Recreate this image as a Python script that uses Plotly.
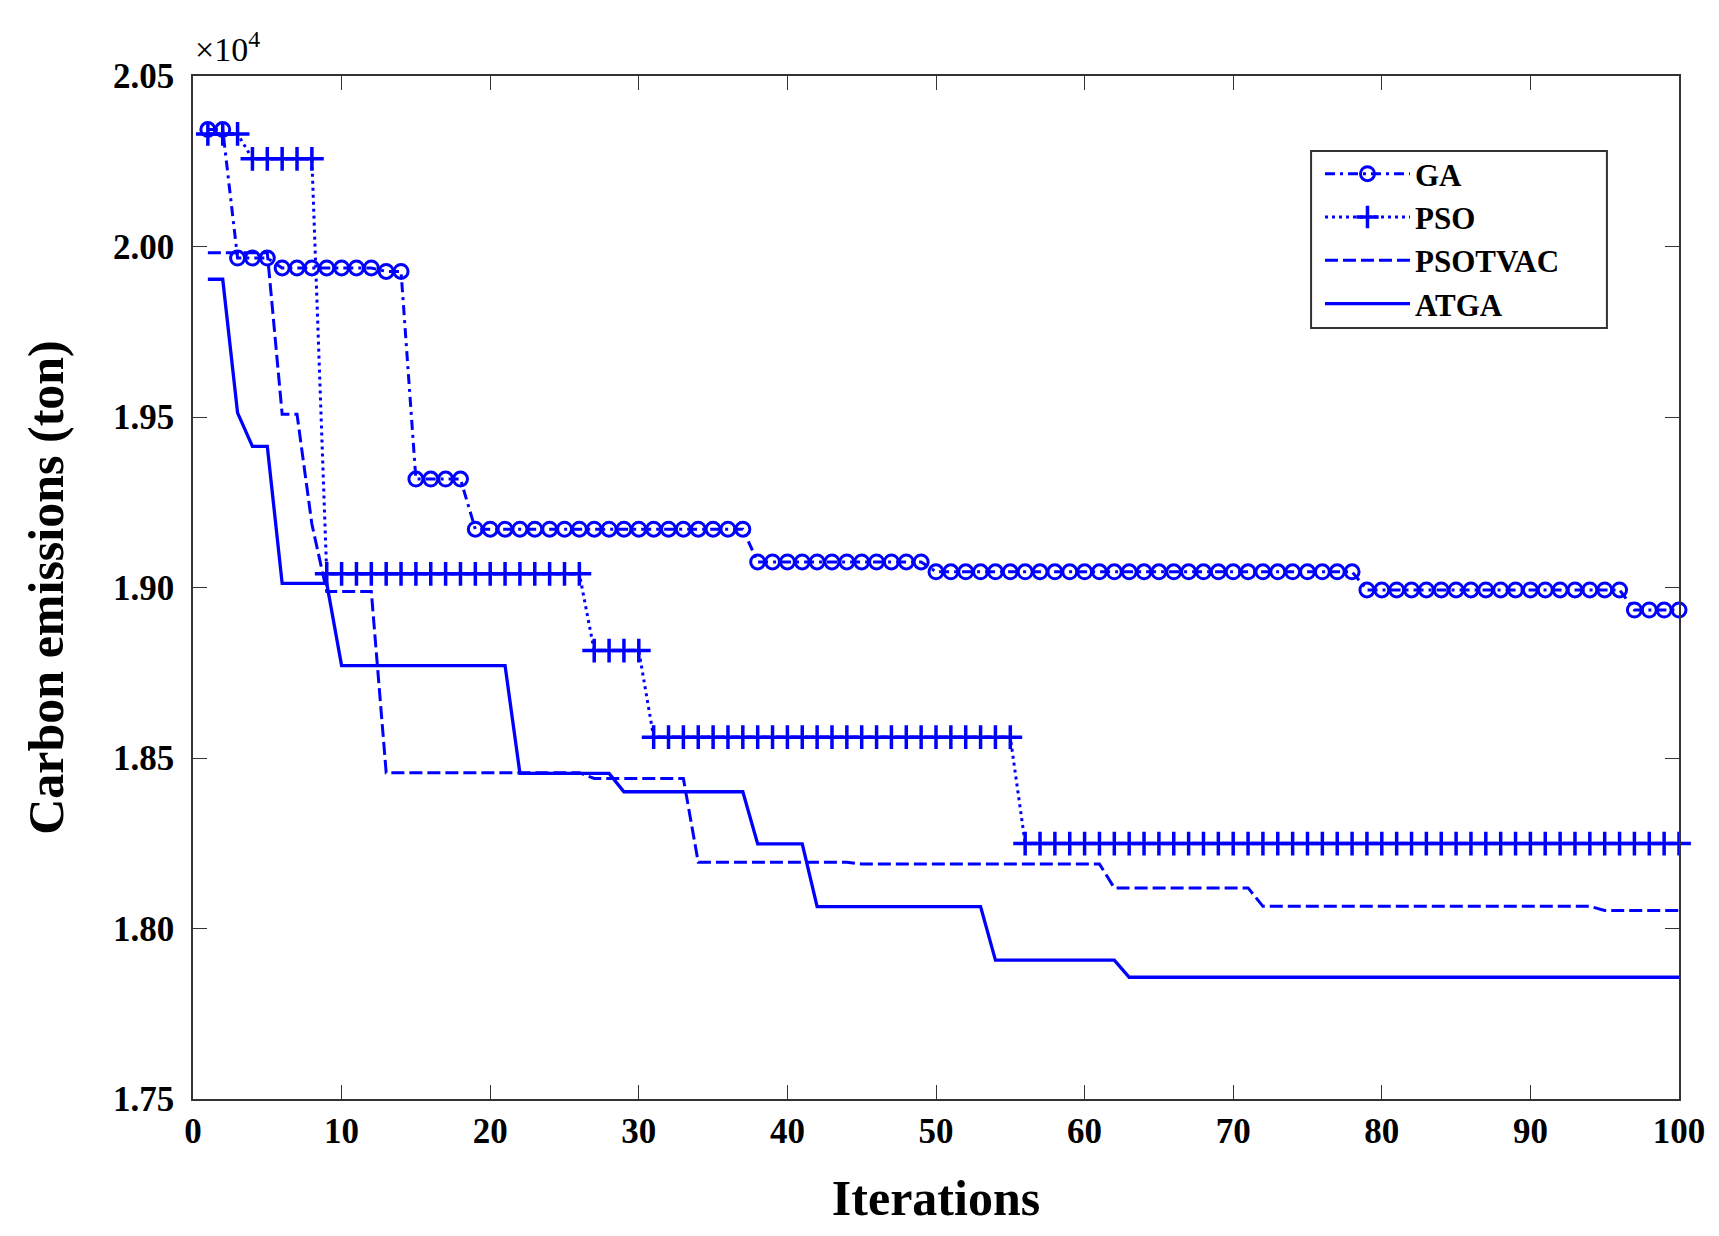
import numpy as np
import plotly.graph_objects as go

# iterations 1..100, each series is a stepwise best-so-far curve
iterations = list(range(1, 101))

# (iteration where a level starts, carbon emission level in ton)
ga_start = [1, 3, 6, 13, 15, 19, 38, 50, 79, 97]
ga_level = [20343, 19966, 19937, 19927, 19318, 19171, 19075, 19046, 18993, 18934]

pso_start = [1, 4, 9, 27, 31, 56]
pso_level = [20330, 20257, 19040, 18815, 18561, 18249]

psotvac_start = [1, 6, 8, 9, 13, 27, 34, 45, 62, 72, 95]
psotvac_level = [19982, 19508, 19186, 18988, 18457, 18440, 18194, 18189, 18119, 18065, 18053]

atga_start = [1, 3, 4, 6, 10, 22, 29, 38, 42, 54, 63]
atga_level = [19904, 19512, 19414, 19012, 18771, 18455, 18401, 18248, 18064, 17907, 17857]

y_ticks = [1.75, 1.80, 1.85, 1.90, 1.95, 2.00, 2.05]
x_ticks = [0, 10, 20, 30, 40, 50, 60, 70, 80, 90, 100]


def steps(start, level, n=100):
    counts = np.diff(start + [n + 1])
    return np.repeat(level, counts)


FONT = "Liberation Serif"
BLUE = "rgb(0,0,255)"

fig = go.Figure()

fig.add_trace(go.Scatter(
    x=iterations, y=steps(ga_start, ga_level), name="GA", legendgroup="ga",
    mode="lines+markers", cliponaxis=False,
    line=dict(color=BLUE, width=3, dash="10px,5px,3px,5px"),
    marker=dict(symbol="circle-open", size=14, color=BLUE, line=dict(width=3, color=BLUE)),
))
fig.add_trace(go.Scatter(
    x=iterations, y=steps(pso_start, pso_level), name="PSO", legendgroup="pso",
    mode="lines+markers", cliponaxis=False,
    line=dict(color=BLUE, width=3, dash="3px,4px"),
    marker=dict(symbol="cross-thin-open", size=17, color=BLUE, line=dict(width=3.5, color=BLUE)),
))
fig.add_trace(go.Scatter(
    x=iterations, y=steps(psotvac_start, psotvac_level), name="PSOTVAC", legendgroup="psotvac",
    mode="lines",
    line=dict(color=BLUE, width=3, dash="13px,5px"),
))
fig.add_trace(go.Scatter(
    x=iterations, y=steps(atga_start, atga_level), name="ATGA", legendgroup="atga",
    mode="lines",
    line=dict(color=BLUE, width=3.3),
))

axis_common = dict(
    showline=True, linecolor="#333", linewidth=1.5, mirror="ticks",
    ticks="inside", ticklen=14, tickwidth=1.3, tickcolor="#333",
    showgrid=False, zeroline=False,
    tickfont=dict(family=FONT, size=35, color="black", weight="bold"),
)
title_font = dict(family=FONT, size=50, color="black", weight="bold")

fig.update_xaxes(
    range=[0, 100], tickvals=x_ticks,
    title=dict(text="Iterations", font=title_font, standoff=30),
    **axis_common,
)
fig.update_yaxes(
    range=[17500, 20500],
    tickvals=[v * 1e4 for v in y_ticks], ticktext=[f"{v:.2f}" for v in y_ticks],
    ticklabelstandoff=10,
    title=dict(text="Carbon emissions (ton)", font=title_font, standoff=34),
    **axis_common,
)

fig.add_annotation(
    text="×10<sup>4</sup>", xref="paper", yref="paper", x=0, y=1,
    xanchor="left", yanchor="bottom", yshift=6, showarrow=False,
    font=dict(family=FONT, size=34, color="black"),
)

# legend frame
fig.add_shape(
    type="rect", xref="paper", yref="paper",
    x0=0.7524, x1=0.9515, y0=0.7537, y1=0.9267,
    line=dict(color="#333", width=2), fillcolor="white", layer="above",
)

# the page body has an 8px margin, so the figure is a bit smaller than the window
fig.update_layout(
    width=1711, height=1220,
    margin=dict(l=185, r=40, t=68, b=129, autoexpand=False),
    paper_bgcolor="white", plot_bgcolor="white",
    showlegend=True,
    legend=dict(
        x=0.7584, y=0.9306, xanchor="left", yanchor="top",
        bgcolor="rgba(0,0,0,0)", borderwidth=0,
        font=dict(family=FONT, size=31, color="black", weight="bold"),
        traceorder="grouped", tracegroupgap=0, itemwidth=85,
    ),
)

fig.write_html("out.html")
